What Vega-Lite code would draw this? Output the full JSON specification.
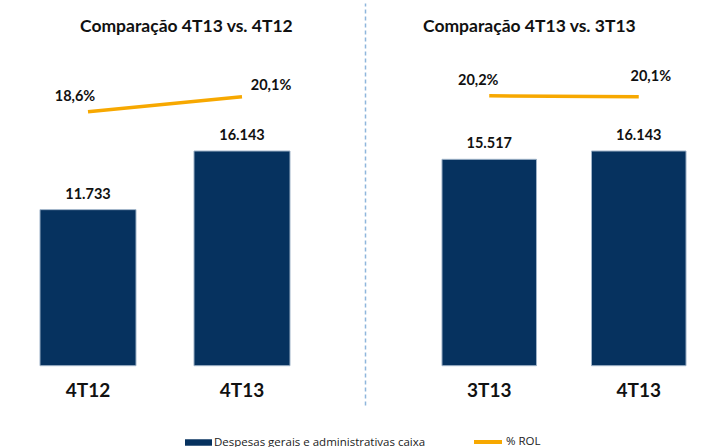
{
  "$schema": "https://vega.github.io/schema/vega-lite/v6.json",
  "background": "white",
  "padding": {"left": 0, "right": 0, "top": 3, "bottom": 0},
  "config": {
    "view": {"stroke": null},
    "locale": {"number": {"decimal": ",", "thousands": ".", "grouping": [3], "currency": ["R$ ", ""]}},
    "title": {"font": "Lato", "fontSize": 17.5, "fontWeight": "bold", "color": "#111"}
  },
  "datasets": {
    "dados": [
      {"painel": "A", "periodo": "4T12", "valor": 11733, "rol": 0.186, "serie": "Despesas gerais e administrativas caixa", "serie2": "% ROL"},
      {"painel": "A", "periodo": "4T13", "valor": 16143, "rol": 0.201, "serie": "Despesas gerais e administrativas caixa", "serie2": "% ROL"},
      {"painel": "B", "periodo": "3T13", "valor": 15517, "rol": 0.202, "serie": "Despesas gerais e administrativas caixa", "serie2": "% ROL"},
      {"painel": "B", "periodo": "4T13", "valor": 16143, "rol": 0.201, "serie": "Despesas gerais e administrativas caixa", "serie2": "% ROL"}
    ]
  },
  "data": {"name": "dados"},
  "spacing": 35,
  "hconcat": [
    {
      "width": 330,
      "height": 402,
      "title": {"text": "Comparação 4T13 vs. 4T12", "anchor": "start", "frame": "group", "dx": 80, "offset": -32},
      "transform": [{"filter": "datum.painel == 'A'"}],
      "encoding": {
        "x": {"field": "periodo", "type": "nominal", "sort": null,
          "scale": {"paddingInner": 0.3766, "paddingOuter": 0.2597},
          "axis": {"title": null, "labelAngle": 0, "domain": false, "ticks": false, "tickSize": 0, "labelPadding": 0, "offset": -15, "labelBaseline": "middle", "labelFont": "Lato", "labelFontSize": 19, "labelFontWeight": "bold", "labelColor": "#111"}}
      },
      "layer": [
        {
          "mark": {"type": "bar", "stroke": "#9fb3c8", "strokeWidth": 1},
          "encoding": {
            "y": {"field": "valor", "type": "quantitative", "scale": {"domain": [-2955, 27271], "nice": false}, "axis": null},
            "fill": {"field": "serie", "type": "nominal", "scale": {"range": ["#06325f"]},
              "legend": {"orient": "none", "legendX": 185, "legendY": 426, "title": null, "symbolType": "M-1,-0.24H1V0.24H-1Z", "symbolSize": 729, "symbolStrokeWidth": 0, "labelFont": "Open Sans", "labelFontSize": 11.5, "labelColor": "#222", "labelOffset": 2, "labelLimit": 400,
                "encode": {"symbols": {"update": {"fill": {"value": "#222"}}}}}}
          }
        },
        {
          "mark": {"type": "text", "dy": -15, "font": "Lato", "fontSize": 14.5, "fontWeight": "bold", "color": "#111"},
          "encoding": {
            "y": {"field": "valor", "type": "quantitative", "scale": {"domain": [-2955, 27271], "nice": false}, "axis": null},
            "text": {"field": "valor", "type": "quantitative", "format": ",d"}
          }
        },
        {
          "mark": {"type": "line", "strokeWidth": 3.5},
          "encoding": {
            "y": {"field": "rol", "type": "quantitative", "scale": {"domain": [-0.1072, 0.2948], "nice": false, "zero": false}, "axis": null},
            "stroke": {"field": "serie2", "type": "nominal", "scale": {"range": ["#f7a800"]},
              "legend": {"orient": "none", "legendX": 472, "legendY": 423, "title": null, "symbolType": "stroke", "symbolSize": 784, "symbolStrokeWidth": 4, "labelFont": "Open Sans", "labelFontSize": 11.5, "labelColor": "#222", "labelOffset": 2, "labelLimit": 400}}
          }
        },
        {
          "transform": [{"filter": "datum.periodo == '4T12'"}],
          "mark": {"type": "text", "dx": -13, "dy": -15, "font": "Lato", "fontSize": 14.5, "fontWeight": "bold", "color": "#111"},
          "encoding": {
            "y": {"field": "rol", "type": "quantitative", "scale": {"domain": [-0.1072, 0.2948], "nice": false, "zero": false}, "axis": null},
            "text": {"field": "rol", "type": "quantitative", "format": ".1%"}
          }
        },
        {
          "transform": [{"filter": "datum.periodo == '4T13'"}],
          "mark": {"type": "text", "dx": 29, "dy": -11, "font": "Lato", "fontSize": 14.5, "fontWeight": "bold", "color": "#111"},
          "encoding": {
            "y": {"field": "rol", "type": "quantitative", "scale": {"domain": [-0.1072, 0.2948], "nice": false, "zero": false}, "axis": null},
            "text": {"field": "rol", "type": "quantitative", "format": ".1%"}
          }
        }
      ],
      "resolve": {"scale": {"y": "independent"}}
    },
    {
      "width": 288,
      "height": 402,
      "title": {"text": "Comparação 4T13 vs. 3T13", "anchor": "start", "frame": "group", "dx": 3, "offset": -32},
      "transform": [{"filter": "datum.painel == 'B'"}],
      "encoding": {
        "x": {"field": "periodo", "type": "nominal", "sort": null,
          "scale": {"paddingInner": 0.368, "paddingOuter": 0.147},
          "axis": {"title": null, "labelAngle": 0, "domain": false, "ticks": false, "tickSize": 0, "labelPadding": 0, "offset": -15, "labelBaseline": "middle", "labelFont": "Lato", "labelFontSize": 19, "labelFontWeight": "bold", "labelColor": "#111"}}
      },
      "layer": [
        {
          "mark": {"type": "bar", "stroke": "#9fb3c8", "strokeWidth": 1},
          "encoding": {
            "y": {"field": "valor", "type": "quantitative", "scale": {"domain": [-2955, 27271], "nice": false},
              "axis": {"orient": "left", "offset": 55, "domain": true, "domainColor": "#8fb6dc", "domainDash": [4, 3], "domainWidth": 1.5, "ticks": false, "labels": false, "grid": false, "title": null}},
            "fill": {"field": "serie", "type": "nominal", "scale": {"range": ["#06325f"]},
              "legend": {"orient": "none", "legendX": 185, "legendY": 426, "title": null, "symbolType": "M-1,-0.24H1V0.24H-1Z", "symbolSize": 729, "symbolStrokeWidth": 0, "labelFont": "Open Sans", "labelFontSize": 11.5, "labelColor": "#222", "labelOffset": 2, "labelLimit": 400,
                "encode": {"symbols": {"update": {"fill": {"value": "#222"}}}}}}
          }
        },
        {
          "mark": {"type": "text", "dy": -15, "font": "Lato", "fontSize": 14.5, "fontWeight": "bold", "color": "#111"},
          "encoding": {
            "y": {"field": "valor", "type": "quantitative", "scale": {"domain": [-2955, 27271], "nice": false}, "axis": null},
            "text": {"field": "valor", "type": "quantitative", "format": ",d"}
          }
        },
        {
          "mark": {"type": "line", "strokeWidth": 3.5},
          "encoding": {
            "y": {"field": "rol", "type": "quantitative", "scale": {"domain": [-0.1072, 0.2948], "nice": false, "zero": false}, "axis": null},
            "stroke": {"field": "serie2", "type": "nominal", "scale": {"range": ["#f7a800"]},
              "legend": {"orient": "none", "legendX": 472, "legendY": 423, "title": null, "symbolType": "stroke", "symbolSize": 784, "symbolStrokeWidth": 4, "labelFont": "Open Sans", "labelFontSize": 11.5, "labelColor": "#222", "labelOffset": 2, "labelLimit": 400}}
          }
        },
        {
          "transform": [{"filter": "datum.periodo == '3T13'"}],
          "mark": {"type": "text", "dx": -11, "dy": -15, "font": "Lato", "fontSize": 14.5, "fontWeight": "bold", "color": "#111"},
          "encoding": {
            "y": {"field": "rol", "type": "quantitative", "scale": {"domain": [-0.1072, 0.2948], "nice": false, "zero": false}, "axis": null},
            "text": {"field": "rol", "type": "quantitative", "format": ".1%"}
          }
        },
        {
          "transform": [{"filter": "datum.periodo == '4T13'"}],
          "mark": {"type": "text", "dx": 12, "dy": -20, "font": "Lato", "fontSize": 14.5, "fontWeight": "bold", "color": "#111"},
          "encoding": {
            "y": {"field": "rol", "type": "quantitative", "scale": {"domain": [-0.1072, 0.2948], "nice": false, "zero": false}, "axis": null},
            "text": {"field": "rol", "type": "quantitative", "format": ".1%"}
          }
        }
      ],
      "resolve": {"scale": {"y": "independent"}}
    }
  ]
}
